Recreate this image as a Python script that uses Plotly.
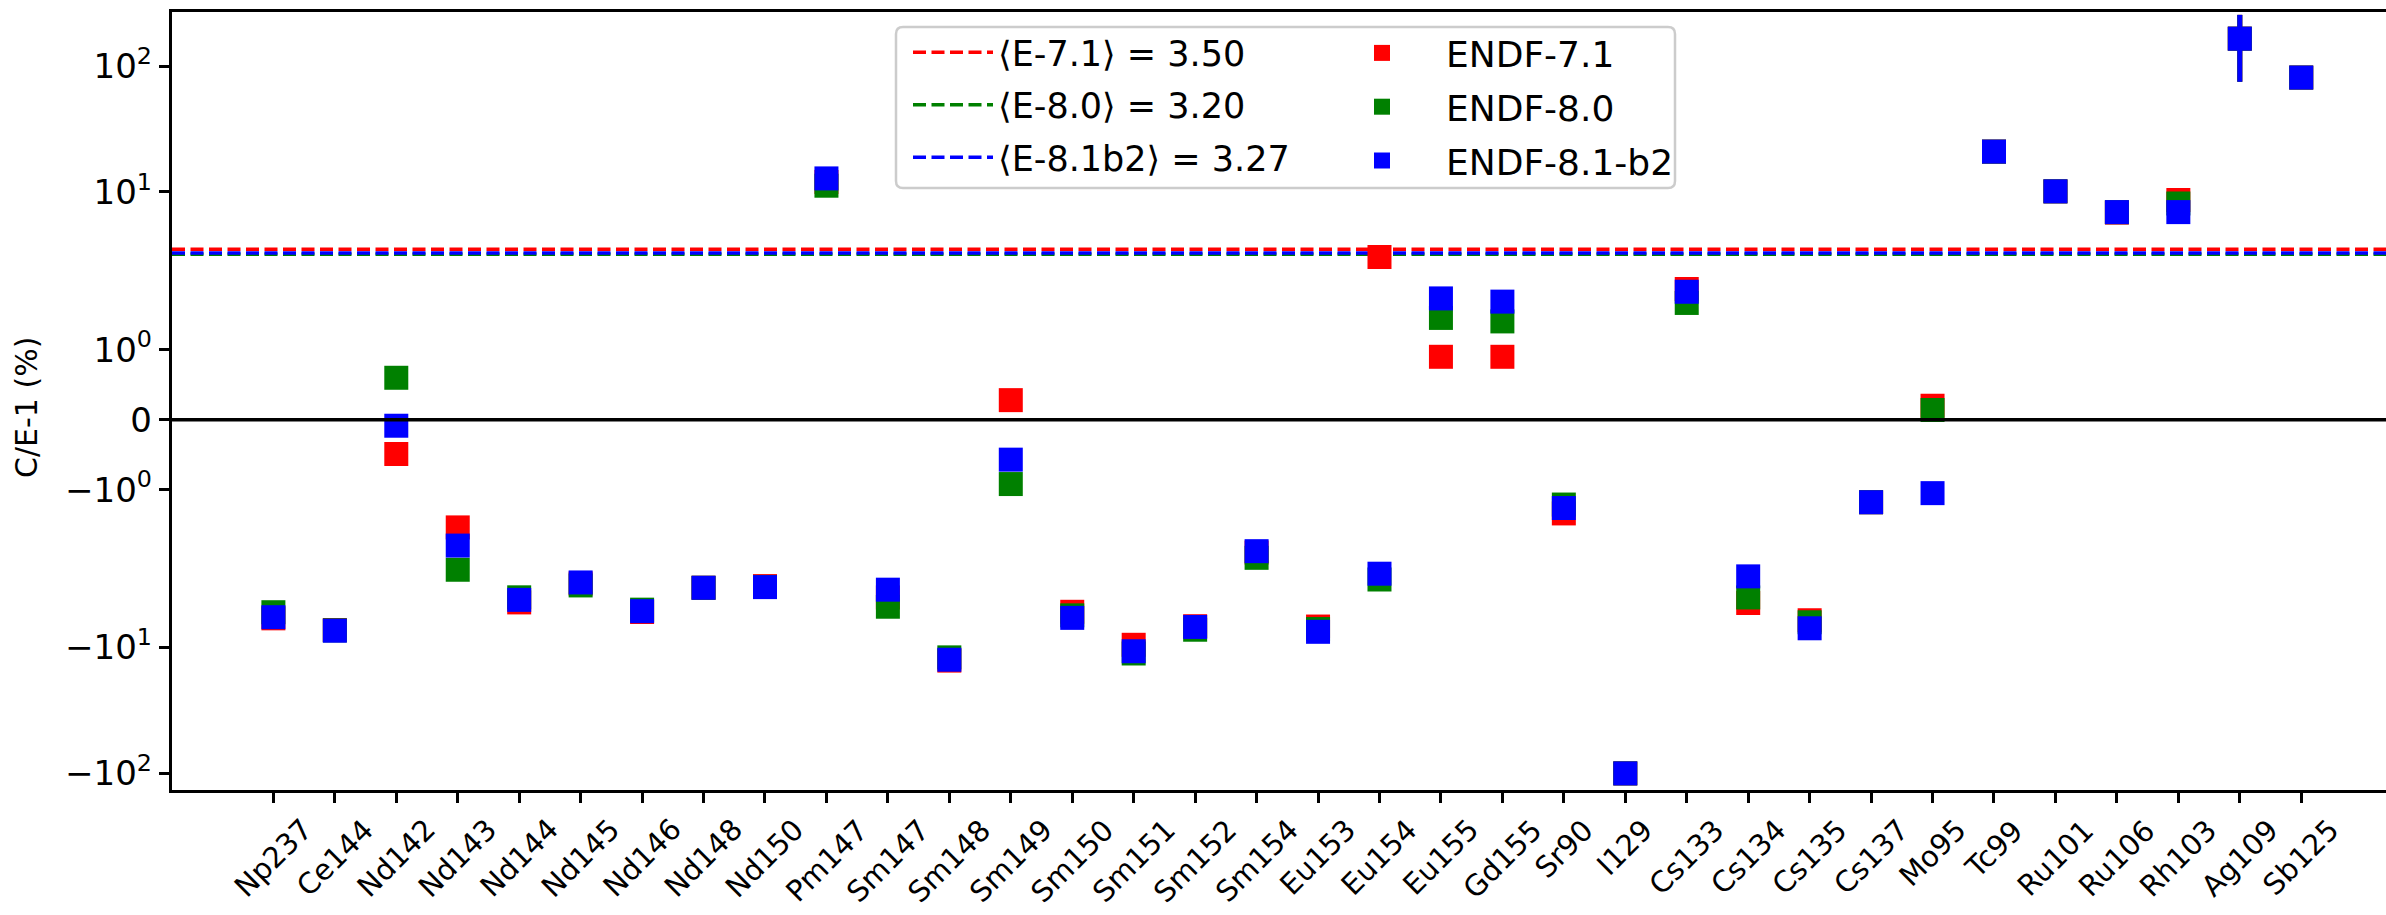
import numpy as np
import plotly.graph_objects as go

# ---------------------------------------------------------------- data
nuclides = ["Np237", "Ce144", "Nd142", "Nd143", "Nd144", "Nd145", "Nd146",
            "Nd148", "Nd150", "Pm147", "Sm147", "Sm148", "Sm149", "Sm150",
            "Sm151", "Sm152", "Sm154", "Eu153", "Eu154", "Eu155", "Gd155",
            "Sr90", "I129", "Cs133", "Cs134", "Cs135", "Cs137", "Mo95",
            "Tc99", "Ru101", "Ru106", "Rh103", "Ag109", "Sb125"]

# C/E-1 in percent for each evaluated library
ce_endf71 = [-5.86, -7.26, -0.49, -1.54, -4.38, -3.10, -5.22, -3.35, -3.25,
             12.0, -4.00, -12.7, 0.28, -5.20, -9.51, -6.77, -1.90, -6.81,
             3.04, 0.90, 0.90, -1.34, -100.0, 1.87, -4.43, -6.07, -1.18,
             0.20, 20.9, 10.1, 6.85, 8.62, 165.0, 81.0]
ce_endf80 = [-5.24, -7.30, 0.60, -2.41, -3.99, -3.21, -5.00, -3.35, -3.30,
             11.2, -4.74, -11.97, -0.92, -5.55, -11.15, -7.22, -1.975, -7.13,
             -2.88, 1.456, 1.406, -1.213, -100.0, 1.67, -4.00, -6.30, -1.18,
             0.139, 20.9, 10.1, 6.90, 8.09, 165.0, 81.0]
ce_endf81b2 = [-5.74, -7.35, -0.086, -1.80, -4.18, -3.04, -5.14, -3.35, -3.31,
               12.8, -3.47, -12.5, -0.571, -5.81, -10.7, -6.86, -1.88, -7.50,
               -2.59, 1.735, 1.689, -1.263, -100.0, 1.83, -2.72, -7.03, -1.18,
               -1.05, 20.9, 10.1, 6.91, 6.91, 165.0, 81.0]
# experimental uncertainty (percent)
unc_pct = [0.0] * 32 + [90.0, 0.0]

mean_labels = ["E-7.1", "E-8.0", "E-8.1b2"]
mean_values = [3.50, 3.20, 3.27]

series_names = ["ENDF-7.1", "ENDF-8.0", "ENDF-8.1-b2"]
series_colors = ["#ff0000", "#008000", "#0000ff"]

ytick_values = [-100, -10, -1, 0, 1, 10, 100]
ytick_text = ["\u221210<sup>2</sup>", "\u221210<sup>1</sup>", "\u221210<sup>0</sup>",
              "0", "10<sup>0</sup>", "10<sup>1</sup>", "10<sup>2</sup>"]


# ---------------------------------------------------------------- scale
def symlog(v, linthresh=2.0, linscale=1.0, base=10.0):
    """Symmetric log transform (linear near zero, logarithmic beyond)."""
    v = np.asarray(v, dtype=float)
    adj = linscale / (1.0 - 1.0 / base)
    a = np.abs(v)
    with np.errstate(divide="ignore", invalid="ignore"):
        logpart = np.sign(v) * linthresh * (adj + np.log(a / linthresh) / np.log(base))
    return np.where(a <= linthresh, v * adj, logpart)


FONT = "DejaVu Sans"
W, H = 2386, 915
L, R, T, B = 172, 0, 12, 125
PW, PH = W - L - R, H - T - B
n = len(nuclides)
xpos = np.arange(n)
xmin = -0.05 * (n - 1)
xmax = xmin + PW / 61.45
y_lo, y_hi = -5.884, 6.479

fig = go.Figure()

# mean lines
line_x = [xmin, (n - 1) * 1.05]
for lab, val, col in zip(mean_labels, mean_values, series_colors):
    yv = float(symlog(val))
    fig.add_trace(go.Scatter(
        x=line_x, y=[yv, yv], mode="lines",
        line=dict(color=col, width=3.6, dash="13px,5.5px"),
        name=f"\u27e8{lab}\u27e9 = {val:.2f}",
        legend="legend", legendgroup=lab, hoverinfo="skip"))

# C/E-1 markers with uncertainty bars
unc = np.array(unc_pct)
for name, vals, col in zip(series_names, [ce_endf71, ce_endf80, ce_endf81b2], series_colors):
    v = np.array(vals)
    yc = symlog(v)
    plus = symlog(v + unc) - yc
    minus = yc - symlog(v - unc)
    fig.add_trace(go.Scatter(
        x=xpos, y=yc, mode="markers", name=name,
        marker=dict(symbol="square", size=24, color=col, line=dict(width=0)),
        error_y=dict(type="data", array=plus, arrayminus=minus, symmetric=False,
                     color=col, thickness=5, width=0),
        legend="legend2", legendgroup=name))

# zero line on top of the markers
fig.add_shape(type="line", xref="paper", yref="y", x0=0, x1=1, y0=0, y1=0,
              line=dict(color="black", width=3.5), layer="above")

# rounded legend frame
fx0, fx1 = (896 - L) / PW, (1675 - L) / PW
fy0, fy1 = (H - B - 188) / PH, (H - B - 27) / PH
rx, ry = 7 / PW, 7 / PH
frame = (f"M {fx0 + rx},{fy0} L {fx1 - rx},{fy0} Q {fx1},{fy0} {fx1},{fy0 + ry} "
         f"L {fx1},{fy1 - ry} Q {fx1},{fy1} {fx1 - rx},{fy1} "
         f"L {fx0 + rx},{fy1} Q {fx0},{fy1} {fx0},{fy1 - ry} "
         f"L {fx0},{fy0 + ry} Q {fx0},{fy0} {fx0 + rx},{fy0} Z")
fig.add_shape(type="path", xref="paper", yref="paper", path=frame,
              line=dict(color="#cccccc", width=2.5), fillcolor="rgba(255,255,255,0.8)",
              layer="below")

# rotated category labels
for xi, lab in zip(xpos, nuclides):
    fig.add_annotation(x=xi, y=0, xref="x", yref="paper", text=lab,
                       textangle=-45, xanchor="center", yanchor="top",
                       yshift=-20, showarrow=False,
                       font=dict(family=FONT, size=29, color="black"))

# y axis title
fig.add_annotation(x=(27 - L) / PW, y=(H - B - 408) / PH,
                   xref="paper", yref="paper", text="C/E-1 (%)", textangle=-90,
                   xanchor="center", yanchor="middle", showarrow=False,
                   font=dict(family=FONT, size=30, color="black"))

leg_top = (H - B - 23) / PH
fig.update_layout(
    width=W, height=H,
    margin=dict(l=L, r=R, t=T, b=B, pad=0),
    paper_bgcolor="white", plot_bgcolor="white",
    font=dict(family=FONT, size=29, color="black"),
    showlegend=True,
    legend=dict(x=(908 - L) / PW, y=leg_top, xanchor="left", yanchor="top",
                bgcolor="rgba(0,0,0,0)", borderwidth=0, itemwidth=80,
                tracegroupgap=4, font=dict(family=FONT, size=35)),
    legend2=dict(x=(1318 - L) / PW, y=leg_top, xanchor="left", yanchor="top",
                 bgcolor="rgba(0,0,0,0)", borderwidth=0, itemsizing="trace",
                 itemwidth=118, tracegroupgap=4, font=dict(family=FONT, size=36)),
    xaxis=dict(range=[xmin, xmax], tickmode="array", tickvals=xpos,
               showticklabels=False, ticks="outside", ticklen=10.5, tickwidth=2.5,
               tickcolor="black", showline=True, linecolor="black", linewidth=2.5,
               mirror=True, showgrid=False, zeroline=False),
    yaxis=dict(range=[y_lo, y_hi], tickmode="array",
               tickvals=symlog(ytick_values), ticktext=ytick_text,
               ticks="outside", ticklen=10.5, tickwidth=2.5, tickcolor="black",
               showline=True, linecolor="black", linewidth=2.5, mirror=False,
               showgrid=False, zeroline=False,
               tickfont=dict(family=FONT, size=34)),
)

fig.write_html("out.html")
